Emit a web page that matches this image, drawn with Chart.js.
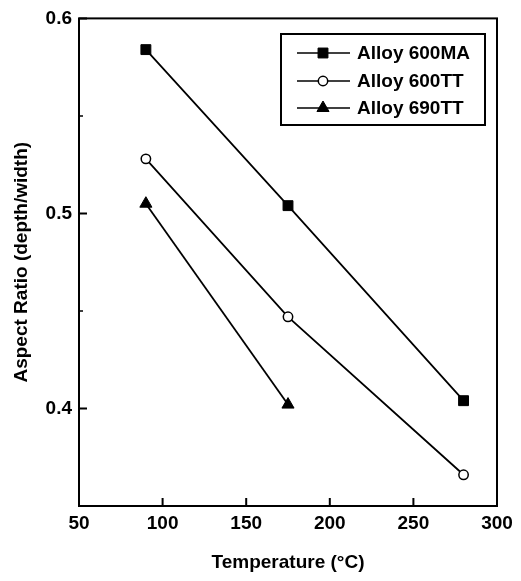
<!DOCTYPE html>
<html>
<head>
<meta charset="utf-8">
<script src="https://cdn.jsdelivr.net/npm/chart.js@4/dist/chart.umd.min.js"></script>
<style>
  html, body { margin: 0; padding: 0; background: #fff; }
  #c { display: block; }
</style>
</head>
<body>
<canvas id="c" width="521" height="581"></canvas>
<script>
// ---- data ----
const seriesNames = ['Alloy 600MA', 'Alloy 600TT', 'Alloy 690TT'];
const temps600MA = [90, 175, 280];
const ratio600MA = [0.584, 0.504, 0.404];
const temps600TT = [90, 175, 280];
const ratio600TT = [0.528, 0.447, 0.366];
const temps690TT = [90, 175];
const ratio690TT = [0.505, 0.402];
const xTicks = [50, 100, 150, 200, 250, 300];
const yMajorTicks = [0.4, 0.5, 0.6];
const yMinorTicks = [0.35, 0.45, 0.55];

const toPts = (xs, ys) => xs.map((x, i) => ({ x: x, y: ys[i] }));

const FONT = "'Liberation Sans', Arial, Helvetica, sans-serif";

const datasets = [
  { label: seriesNames[0], data: toPts(temps600MA, ratio600MA), pointStyle: 'rect', pointRadius: 7,
    pointBackgroundColor: '#000', pointBorderColor: '#000', pointBorderWidth: 1 },
  { label: seriesNames[1], data: toPts(temps600TT, ratio600TT), pointStyle: 'circle', pointRadius: 4.7,
    pointBackgroundColor: '#fff', pointBorderColor: '#000', pointBorderWidth: 1.5 },
  { label: seriesNames[2], data: toPts(temps690TT, ratio690TT), pointStyle: 'triangle', pointRadius: 7,
    pointBackgroundColor: '#000', pointBorderColor: '#000', pointBorderWidth: 1 }
].map(d => Object.assign({ showLine: true, borderColor: '#000', borderWidth: 1.8, fill: false,
  pointHoverRadius: d.pointRadius }, d));

const frameTicks = {
  id: 'frameTicks',
  afterDatasetsDraw(chart) {
    const { ctx, chartArea: a, scales: { x, y } } = chart;
    ctx.save();
    ctx.strokeStyle = '#000';
    ctx.lineWidth = 2;
    ctx.strokeRect(a.left, a.top, a.right - a.left, a.bottom - a.top);
    ctx.beginPath();
    xTicks.forEach(v => { const px = x.getPixelForValue(v); ctx.moveTo(px, a.bottom); ctx.lineTo(px, a.bottom - 8); });
    yMajorTicks.forEach(v => { const py = y.getPixelForValue(v); ctx.moveTo(a.left, py); ctx.lineTo(a.left + 8, py); });
    ctx.stroke();
    ctx.beginPath();
    ctx.lineWidth = 1.5;
    yMinorTicks.forEach(v => { const py = y.getPixelForValue(v); ctx.moveTo(a.left, py); ctx.lineTo(a.left + 4, py); });
    ctx.stroke();
    ctx.restore();
  }
};

const boxLegend = {
  id: 'boxLegend',
  afterDraw(chart) {
    const { ctx } = chart;
    const bx = 281, by = 34, bw = 204, bh = 91;
    ctx.save();
    ctx.fillStyle = '#fff';
    ctx.fillRect(bx, by, bw, bh);
    ctx.strokeStyle = '#000';
    ctx.lineWidth = 2;
    ctx.strokeRect(bx, by, bw, bh);
    const rows = [53, 81, 108];
    chart.data.datasets.forEach((ds, i) => {
      const yy = rows[i];
      ctx.beginPath();
      ctx.lineWidth = 1.4;
      ctx.strokeStyle = '#000';
      ctx.moveTo(297, yy); ctx.lineTo(350, yy);
      ctx.stroke();
      const opts = { pointStyle: ds.pointStyle, radius: ds.pointRadius, rotation: 0, borderWidth: ds.pointBorderWidth };
      ctx.fillStyle = ds.pointBackgroundColor;
      ctx.strokeStyle = ds.pointBorderColor;
      ctx.lineWidth = ds.pointBorderWidth;
      Chart.helpers.drawPoint(ctx, opts, 323, yy);
      ctx.fillStyle = '#000';
      ctx.font = 'bold 19px ' + FONT;
      ctx.textAlign = 'left';
      ctx.textBaseline = 'middle';
      ctx.fillText(ds.label, 357, yy + 1);
    });
    ctx.restore();
  }
};

new Chart(document.getElementById('c'), {
  type: 'scatter',
  data: { datasets: datasets },
  options: {
    responsive: false,
    animation: false,
    events: [],
    layout: { padding: { left: 0, right: 24, top: 15, bottom: 0 } },
    plugins: { legend: { display: false }, tooltip: { enabled: false } },
    scales: {
      x: {
        type: 'linear', min: 50, max: 300,
        afterBuildTicks: s => { s.ticks = xTicks.map(v => ({ value: v })); },
        ticks: { color: '#000', font: { family: FONT, size: 19, weight: 'bold' }, padding: 6, maxRotation: 0,
                 callback: v => String(v) },
        grid: { display: false, drawTicks: false },
        border: { display: false },
        title: { display: true, text: 'Temperature (°C)', color: '#000',
                 font: { family: FONT, size: 19, weight: 'bold' }, padding: { top: 0, bottom: 7 } },
        afterFit: s => { s.height = 75; }
      },
      y: {
        type: 'linear', min: 0.35, max: 0.6,
        afterBuildTicks: s => { s.ticks = yMajorTicks.map(v => ({ value: v })); },
        ticks: { color: '#000', font: { family: FONT, size: 19, weight: 'bold' }, padding: 7,
                 callback: v => v.toFixed(1) },
        grid: { display: false, drawTicks: false },
        border: { display: false },
        title: { display: true, text: 'Aspect Ratio (depth/width)', color: '#000',
                 font: { family: FONT, size: 19, weight: 'bold' }, padding: { top: 10.5, bottom: 0 } },
        afterFit: s => { s.width = 79; }
      }
    }
  },
  plugins: [frameTicks, boxLegend]
});
</script>
</body>
</html>
